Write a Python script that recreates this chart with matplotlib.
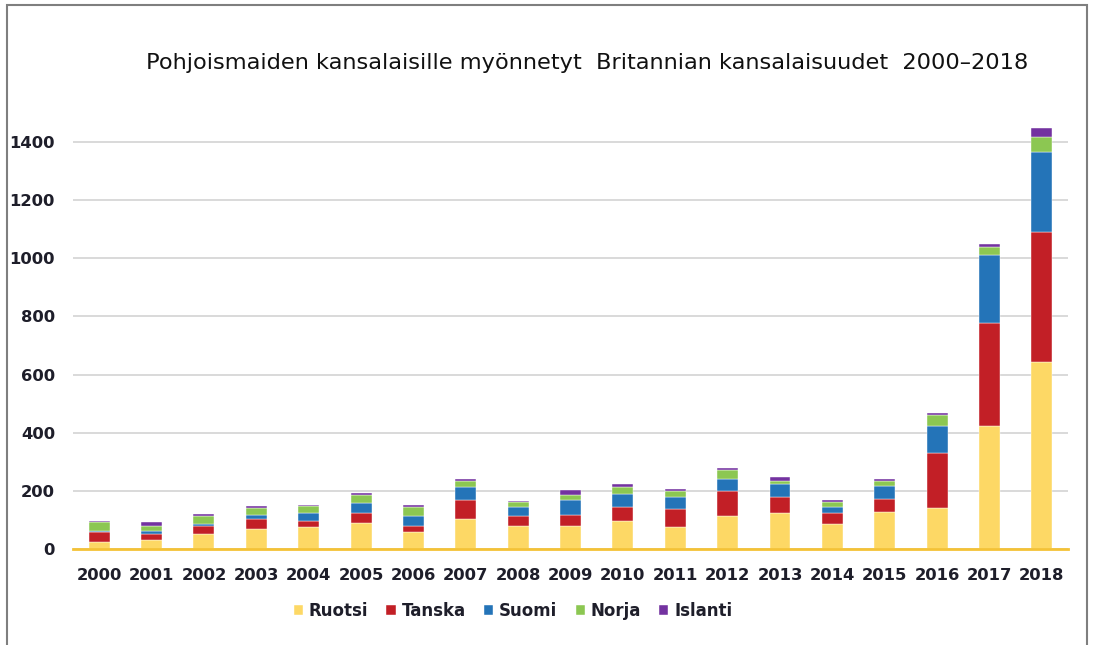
import matplotlib
matplotlib.use("Agg")
import matplotlib.pyplot as plt
from matplotlib.patches import Rectangle
import numpy as np

years = ["2000", "2001", "2002", "2003", "2004", "2005", "2006", "2007", "2008", "2009",
         "2010", "2011", "2012", "2013", "2014", "2015", "2016", "2017", "2018"]
ruotsi  = [23, 30, 52, 69, 75, 90, 57, 102, 79, 79, 95, 75, 112, 123, 85, 128, 140, 423, 644]
tanska  = [34, 20, 27, 33, 21, 34, 23, 67, 33, 39, 51, 61, 89, 56, 38, 45, 189, 355, 448]
suomi   = [6, 13, 6, 16, 28, 33, 32, 43, 34, 51, 44, 43, 39, 45, 23, 45, 94, 233, 273]
norja   = [30, 17, 28, 23, 23, 28, 34, 22, 17, 16, 22, 22, 33, 11, 17, 16, 38, 27, 53]
islanti = [4, 12, 6, 6, 5, 6, 5, 7, 1, 17, 12, 7, 7, 12, 6, 6, 6, 10, 29]

series_names = ["Ruotsi", "Tanska", "Suomi", "Norja", "Islanti"]
series_vals = [ruotsi, tanska, suomi, norja, islanti]
colors = ["#FDD865", "#C21F26", "#2474B8", "#8CC752", "#7332A0"]
yticks = [0, 200, 400, 600, 800, 1000, 1200, 1400]
title = "Pohjoismaiden kansalaisille myönnetyt  Britannian kansalaisuudet  2000\u20132018"

plt.rcParams['font.family'] = ['DejaVu Sans']

fig = plt.figure(figsize=(10.93, 6.45), dpi=100)
ax = fig.add_axes([73/1093, (645-549)/645, (1068-73)/1093, (549-113)/645])

x = np.arange(len(years))
bottom = np.zeros(len(years))
for name, vals, c in zip(series_names, series_vals, colors):
    ax.bar(x, vals, width=0.4, bottom=bottom, color=c, label=name,
           edgecolor="white", linewidth=0.3, zorder=3)
    bottom += np.array(vals)

ax.set_xlim(-0.5, len(years) - 0.5)
ax.set_ylim(0, 1500)
ax.set_yticks(yticks)
ax.set_xticks(x)
ax.set_xticklabels(years)
ax.grid(axis="y", color="#D9D9D9", linewidth=1.4, zorder=0)
for s in ["top", "right", "left"]:
    ax.spines[s].set_visible(False)
ax.spines["bottom"].set_color("#F4C236")
ax.spines["bottom"].set_linewidth(2)
ax.spines["bottom"].set_zorder(4)
ax.tick_params(axis="both", length=0, labelsize=11.8, colors="#1E1E2A")
ax.tick_params(axis="x", pad=14)
ax.tick_params(axis="y", pad=13)
for lab in ax.get_xticklabels() + ax.get_yticklabels():
    lab.set_fontweight("bold")

fig.text(587/1093, (645-63)/645, title, ha="center", va="center",
         fontsize=16.2, color="#111111")

leg = fig.legend(loc="center", bbox_to_anchor=(513/1093, (645-611)/645), ncol=5,
                 frameon=False, prop={"size": 12, "weight": "bold"},
                 handlelength=0.55, handleheight=0.55,
                 handletextpad=0.35, columnspacing=1.1)
for t in leg.get_texts():
    t.set_color("#1E1E2A")

fig.add_artist(Rectangle((7/1093, -0.05), (1087-7)/1093, (645-5)/645 + 0.05,
                         transform=fig.transFigure, fill=False,
                         edgecolor="#7F7F7F", linewidth=1.5))

fig.savefig("out.png", dpi=100)
